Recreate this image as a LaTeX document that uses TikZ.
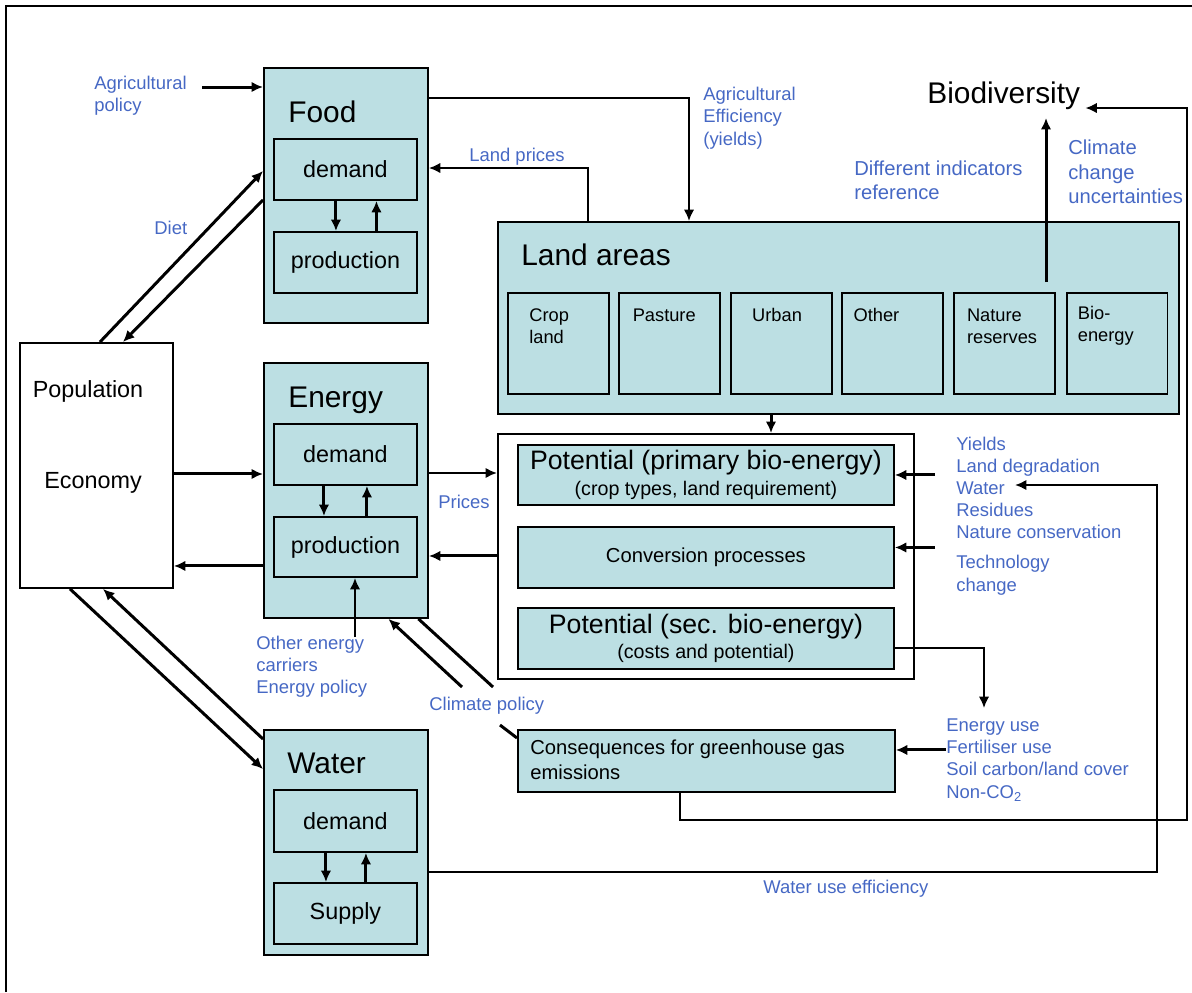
\documentclass[tikz,border=0pt]{standalone}
\usepackage{fontspec}
\setmainfont{Liberation Sans}
\usetikzlibrary{arrows.meta, positioning}

\definecolor{boxfill}{RGB}{188,223,227}
\definecolor{labelblue}{RGB}{70,104,196}

\begin{document}
\begin{tikzpicture}[
    x=0.02cm, y=-0.02cm,
    >={Latex[length=6.5pt,width=6pt]},
    sector/.style={rectangle, draw, fill=boxfill, line width=1.1pt, anchor=north west, minimum width=3.28cm, inner sep=0pt},
    inner/.style={rectangle, draw, fill=boxfill, line width=1.1pt, anchor=north west, minimum width=2.86cm, minimum height=1.22cm, font=\fontsize{13.3}{15}\selectfont},
    landtype/.style={rectangle, draw, fill=boxfill, line width=1.1pt, anchor=north west, minimum width=2.02cm, minimum height=2.02cm},
    biobox/.style={rectangle, draw, fill=boxfill, line width=1.1pt, anchor=north west, minimum width=7.52cm, minimum height=1.22cm, inner sep=0pt, align=center},
    title/.style={anchor=base west, inner sep=0pt, font=\fontsize{17}{20}\selectfont},
    plain/.style={inner sep=0pt, font=\fontsize{13.3}{15}\selectfont},
    landtext/.style={anchor=west, inner sep=0pt, align=left, font=\fontsize{10.4}{12.4}\selectfont},
    label/.style={anchor=west, inner sep=0pt, align=left, text=labelblue, font=\fontsize{10.5}{12.6}\selectfont},
    biglabel/.style={label, font=\fontsize{11.5}{13.8}\selectfont},
    arrow/.style={->, line width=1.7pt},
    thinarrow/.style={->, line width=1.2pt},
    bar/.style={line width=1.7pt},
    link/.style={line width=1pt}
]
\useasboundingbox (0,0) rectangle (1192,992);

% outer frame
\draw[link] (6,992) -- (6,6) -- (1192,6);

% Food
\node[sector, minimum height=5.1cm] (food) at (263,67) {};
\node[title] (foodtitle) at (288,122) {Food};
\node[inner] (fooddem) at (273,138) {demand};
\node[inner] (foodprod) at (273,231) {production};

% Energy
\node[sector, minimum height=5.1cm] (energy) at (263,362) {};
\node[title] (energytitle) at (288,407) {Energy};
\node[inner] (endem) at (273,423) {demand};
\node[inner, minimum height=1.2cm] (enprod) at (273,516) {production};

% Water
\node[sector, minimum height=4.5cm] (water) at (263,729) {};
\node[title] (watertitle) at (287,773) {Water};
\node[inner, minimum height=1.24cm] (watdem) at (273,789) {demand};
\node[inner] (supply) at (273,882) {Supply};

% Population / economy
\node[sector, fill=white, minimum width=3.06cm, minimum height=4.9cm] (pop) at (19,342) {};
\node[plain] (poptxt) at (88,391) {Population};
\node[plain] (ecotxt) at (93,483) {Economy};

% Land areas
\node[sector, minimum width=13.62cm, minimum height=3.84cm] (land) at (497,221) {};
\node[title] (landtitle) at (521,265) {Land areas};
\node[landtype] (crop) at (507,292) {};
\node[landtype, right=0.17cm of crop] (pasture) {};
\node[landtype, right=0.17cm of pasture] (urban) {};
\node[landtype, right=0.17cm of urban] (other) {};
\node[landtype, right=0.17cm of other] (nature) {};
\node[landtype, right=0.2cm of nature] (bioland) {};
\node[landtext] (croptxt) at ([xshift=0.44cm, yshift=-0.68cm]crop.north west) {Crop\\land};
\node[landtext] (pasturetxt) at ([xshift=0.28cm, yshift=-0.46cm]pasture.north west) {Pasture};
\node[landtext] (urbantxt) at ([xshift=0.44cm, yshift=-0.46cm]urban.north west) {Urban};
\node[landtext] (othertxt) at ([xshift=0.24cm, yshift=-0.46cm]other.north west) {Other};
\node[landtext] (naturetxt) at ([xshift=0.28cm, yshift=-0.68cm]nature.north west) {Nature\\reserves};
\node[landtext] (biolandtxt) at ([xshift=0.24cm, yshift=-0.68cm]bioland.north west) {Bio-\\energy};

\node[title] (biodiv) at (927,103) {Biodiversity};

% Bio-energy chain
\node[draw, line width=1.1pt, anchor=north west, minimum width=8.32cm, minimum height=4.9cm] (potframe) at (497,433) {};
\node[biobox, minimum height=1.2cm, font=\fontsize{15.2}{14.8}\selectfont] (pprim) at (517,444)
    {\strut Potential (primary bio-energy)\\{\fontsize{11.2}{13}\selectfont (crop types, land requirement)}};
\node[biobox, font=\fontsize{11.5}{13}\selectfont] (conv) at (517,526) {Conversion processes};
\node[biobox, font=\fontsize{15.2}{14.2}\selectfont] (psec) at (517,607)
    {\strut Potential (sec. bio-energy)\\{\fontsize{11.2}{13}\selectfont (costs and potential)}};
\node[biobox, minimum width=7.54cm, minimum height=1.24cm] (cons) at (517,729) {};
\node[anchor=west, inner sep=0pt, align=left, font=\fontsize{11.5}{14.2}\selectfont] (constxt) at (530,760)
    {Consequences for greenhouse gas\\emissions};

% Labels
\node[label] (agripol) at (94,96) {Agricultural\\policy};
\node[label] (diet) at (154,228) {Diet};
\node[label] (landprices) at (469,157) {Land prices};
\node[label, font=\fontsize{10.5}{12.8}\selectfont] (agrieff) at (703,118) {Agricultural\\Efficiency\\(yields)};
\node[biglabel] (indicators) at (854,180) {Different indicators\\reference};
\node[biglabel] (climunc) at (1068,172) {Climate\\change\\uncertainties};
\node[label] (prices) at (438,502) {Prices};
\node[label] (factors) at (956,488) {Yields\\Land degradation\\Water\\Residues\\Nature conservation};
\node[label, font=\fontsize{10.5}{13}\selectfont] (techchange) at (956,575) {Technology\\change};
\node[label] (otherenergy) at (256,667) {Other energy\\carriers\\Energy policy};
\node[label] (climpol) at (429,706) {Climate policy};
\node[label] (emisfactors) at (946,760) {Energy use\\Fertiliser use\\Soil carbon/land cover\\Non-CO\textsubscript{2}};
\node[label] (wateff) at (763,889) {Water use efficiency};

% Food links
\coordinate (agripolend) at (202,87);
\draw[arrow] (agripolend) -- (agripolend -| food.west);
\draw[arrow] ([xshift=1.62cm]pop.north west) -- ([yshift=-2.08cm]food.north west);
\draw[arrow] ([yshift=-2.66cm]food.north west) -- ([xshift=2.08cm]pop.north west);
\draw[arrow] ([xshift=-0.19cm]fooddem.south) -- ([xshift=-0.19cm]foodprod.north);
\draw[arrow] ([xshift=0.62cm]foodprod.north) -- ([xshift=0.62cm]fooddem.south);

% Energy links
\draw[arrow] ([xshift=-0.43cm]endem.south) -- ([xshift=-0.43cm]enprod.north);
\draw[arrow] ([xshift=0.43cm]enprod.north) -- ([xshift=0.43cm]endem.south);
\draw[arrow] ([yshift=-2.64cm]pop.north east) -- ([yshift=-2.64cm]pop.north east -| energy.west);
\draw[arrow] ([yshift=-4.48cm]pop.north east -| energy.west) -- ([yshift=-4.48cm]pop.north east);
\draw[arrow] ([yshift=-2.22cm]energy.north east) -- ([yshift=-2.22cm]energy.north east -| potframe.west);
\draw[arrow] ([yshift=-3.88cm]energy.north east -| potframe.west) -- ([yshift=-3.88cm]energy.north east);
\coordinate (oeend) at (355,637);
\draw[arrow] (oeend) -- (oeend |- enprod.south);

% Climate policy
\coordinate (climA) at (462,687);
\coordinate (climB) at (493,687);
\coordinate (climC) at (500,725);
\draw[arrow] (climA) -- ([xshift=0.85cm]energy.south);
\draw[bar] ([xshift=1.45cm]energy.south) -- (climB);
\draw[bar] (climC) -- ([yshift=-0.18cm]cons.north west);

% Water links
\draw[arrow] ([xshift=-0.39cm]watdem.south) -- ([xshift=-0.39cm]supply.north);
\draw[arrow] ([xshift=0.41cm]supply.north) -- ([xshift=0.41cm]watdem.south);
\draw[arrow] ([xshift=1.02cm]pop.south west) -- ([yshift=-0.8cm]water.north west);
\draw[arrow] ([yshift=-0.2cm]water.north west) -- ([xshift=1.68cm]pop.south west);

% Land links
\coordinate (effcorner) at (689,98);
\draw[thinarrow] (effcorner -| food.east) -- (effcorner) -- (effcorner |- land.north);
\coordinate (pricecorner) at (588,168);
\draw[thinarrow] (pricecorner |- land.north) -- (pricecorner) -- (pricecorner -| food.east);
\coordinate (landout) at (771,420);
\draw[arrow] (landout |- land.south) -- (landout |- potframe.north);
\coordinate (natureout) at (1046,282);
\draw[arrow] (natureout) -- ([yshift=-0.3cm]natureout |- biodiv.base);

% Drivers of the bio-energy chain
\coordinate (factorsin) at (935,474);
\draw[arrow] (pprim.east -| factorsin) -- (pprim.east);
\draw[arrow] ([yshift=0.2cm]conv.east -| factorsin) -- ([yshift=0.2cm]conv.east);
\coordinate (secdown) at (984,708);
\draw[thinarrow] ([yshift=-0.19cm]psec.east) -| (secdown);
\draw[arrow] ([yshift=0.22cm]cons.east -| emisfactors.west) -- ([yshift=0.22cm]cons.east);

% Feedback loops
\coordinate (consout) at (680,820);
\coordinate (fbcorner) at (1187,820);
\draw[thinarrow] (consout |- cons.south) -- (consout) -- (fbcorner) |- ([xshift=0.1cm, yshift=-0.1cm]biodiv.base east);
\coordinate (wcorner) at (1157,872);
\coordinate (watertip) at (1015,485);
\draw[thinarrow] (wcorner -| water.east) -- (wcorner) |- (watertip);

\end{tikzpicture}
\end{document}
